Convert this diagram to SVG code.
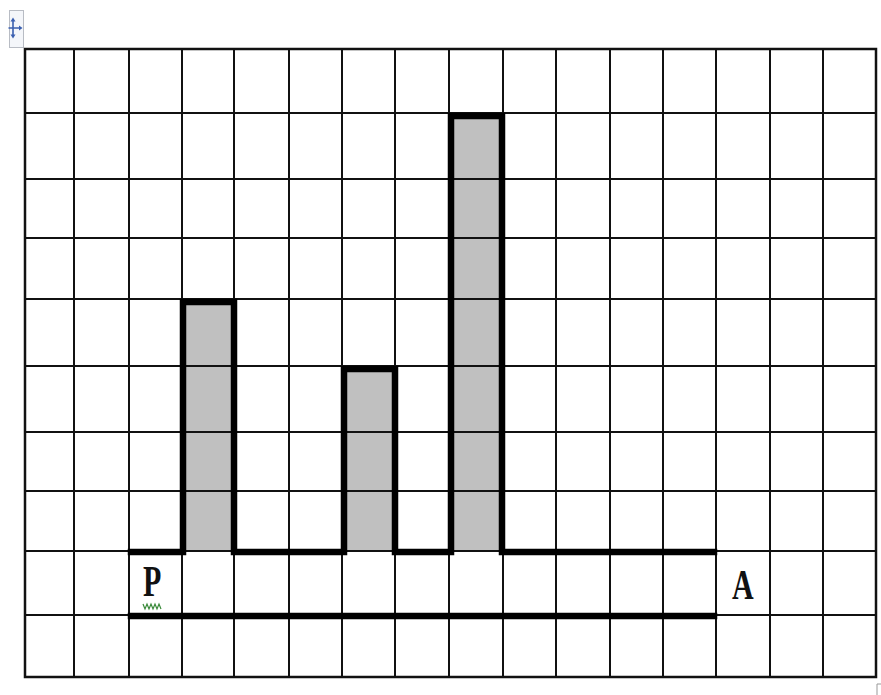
<svg xmlns="http://www.w3.org/2000/svg" width="881" height="695" viewBox="0 0 881 695">
<style>
.grid{stroke:#111;stroke-width:2;fill:none}
.bar{fill:#c0c0c0;stroke:none}
.thick{stroke:#000;stroke-width:6.5;fill:none;stroke-linecap:square;stroke-linejoin:miter}
.lbl{font-family:"Liberation Serif","Times New Roman",serif;font-weight:bold;font-size:30px;fill:#111}
</style>
<rect width="881" height="695" fill="#fff"/>
<g id="handle">
<rect x="9.5" y="10.5" width="14" height="37" fill="#f4f6fa" stroke="#b8bcc4" stroke-width="1"/>
<path d="M13 19 V37 M8.5 28 H21" stroke="#3a5fb0" stroke-width="1.6" fill="none"/>
<path d="M10.5 21.5 L13 17.5 L15.5 21.5 Z M10.5 34.5 L13 38.5 L15.5 34.5 Z M19 25.5 L22.5 28 L19 30.5 Z" fill="#3a5fb0"/>
</g>
<g id="bars">
<rect class="bar" x="182" y="299" width="52" height="252"/>
<rect class="bar" x="342" y="366" width="53" height="185"/>
<rect class="bar" x="449" y="113" width="54" height="438"/>
</g>
<g id="grid">
<path class="grid" d="M25 49 V677 M74 49 V677 M129 49 V677 M182 49 V677 M234 49 V677 M289 49 V677 M342 49 V677 M395 49 V677 M449 49 V677 M503 49 V677 M556 49 V677 M610 49 V677 M663 49 V677 M716 49 V677 M770 49 V677 M823 49 V677 M876 49 V677"/>
<path class="grid" d="M25 49 H876 M25 113 H876 M25 179 H876 M25 238 H876 M25 299 H876 M25 366 H876 M25 432 H876 M25 491 H876 M25 551 H876 M25 615 H876 M25 677 H876"/>
<rect x="25" y="49" width="851" height="628" fill="none" stroke="#111" stroke-width="2.5"/>
</g>
<g id="connectors">
<path class="thick" d="M131 552 H183 V302 H234 V552 H344 V369 H395 V552 H451 V116 H502 V552 H714"/>
<path class="thick" d="M131 616 H714"/>
</g>
<g id="label-P">
<text class="lbl" transform="translate(143,596) scale(1,1.45)">P</text>
<path d="M143 604 l2 5 l2 -5 l2 5 l2 -5 l2 5 l2 -5 l2 5 l2 -5 l2 5" stroke="#3a8a3a" stroke-width="1.2" fill="none"/>
</g>
<g id="label-A">
<text class="lbl" transform="translate(732,599) scale(1,1.4)">A</text>
</g>
<path d="M877 695 V684 H881" stroke="#999" stroke-width="1" fill="none"/>
</svg>
